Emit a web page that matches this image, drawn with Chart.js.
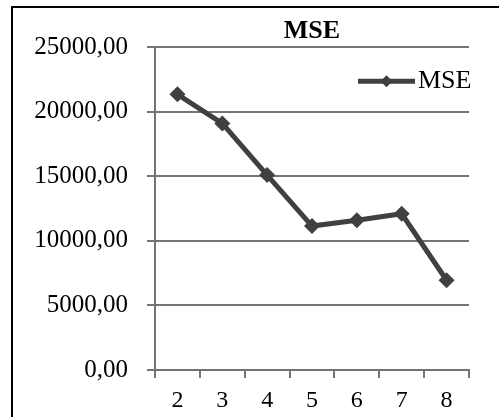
<!DOCTYPE html>
<html>
<head>
<meta charset="utf-8">
<style>
  html, body { margin: 0; padding: 0; background: #fff; }
  #wrap { width: 499px; height: 417px; position: relative; }
</style>
<script src="https://cdn.jsdelivr.net/npm/chart.js@4/dist/chart.umd.min.js"></script>
</head>
<body>
<div id="wrap"><canvas id="c" width="499" height="417"></canvas></div>
<script>
// Number of clusters on the x axis and the MSE obtained for each
const categories = ['2', '3', '4', '5', '6', '7', '8'];
const mseValues = [21350, 19100, 15100, 11150, 11600, 12100, 6950];
const seriesName = 'MSE';
const chartTitle = 'MSE';
const yMin = 0;
const yMax = 25000;
const yStep = 5000;

const SERIF = "'Liberation Serif', 'Times New Roman', serif";
const LINE_COLOR = '#404040';
const GRID_COLOR = '#747474';

// Black frame around the whole figure
const framePlugin = {
  id: 'frame',
  afterDraw(chart) {
    const ctx = chart.ctx;
    ctx.save();
    ctx.strokeStyle = '#000';
    ctx.lineWidth = 2;
    ctx.strokeRect(12, 7, 1000, 1000);
    ctx.restore();
  }
};

// Legend entry drawn inside the plot, top right
const innerLegend = {
  id: 'innerLegend',
  afterDatasetsDraw(chart) {
    const ctx = chart.ctx;
    const area = chart.chartArea;
    const ds = chart.data.datasets[0];
    const y = area.top + 34;
    const x0 = area.right - 111;
    const x1 = area.right - 54;
    ctx.save();
    ctx.strokeStyle = ds.borderColor;
    ctx.lineWidth = 5;
    ctx.beginPath();
    ctx.moveTo(x0, y);
    ctx.lineTo(x1, y);
    ctx.stroke();
    ctx.fillStyle = ds.pointBackgroundColor;
    Chart.helpers.drawPoint(ctx, { pointStyle: 'rectRot', radius: 6, borderWidth: 0 }, (x0 + x1) / 2, y);
    ctx.fillStyle = '#000';
    ctx.font = '26px ' + SERIF;
    ctx.textAlign = 'left';
    ctx.textBaseline = 'middle';
    ctx.fillText(ds.label, x1 + 3, y);
    ctx.restore();
  }
};

new Chart(document.getElementById('c'), {
  type: 'line',
  data: {
    labels: categories,
    datasets: [{
      label: seriesName,
      data: mseValues,
      borderColor: LINE_COLOR,
      backgroundColor: LINE_COLOR,
      borderWidth: 5,
      pointStyle: 'rectRot',
      pointRadius: 8,
      pointBorderWidth: 0,
      pointBackgroundColor: LINE_COLOR,
      tension: 0,
      fill: false
    }]
  },
  options: {
    responsive: false,
    animation: false,
    devicePixelRatio: 1,
    layout: { padding: { left: 0, right: 30, top: 0, bottom: 0 } },
    plugins: {
      legend: { display: false },
      tooltip: { enabled: false },
      title: {
        display: true,
        text: chartTitle,
        fullSize: false,
        color: '#000',
        font: { family: SERIF, size: 26, weight: 'bold', lineHeight: 1.2 },
        padding: { top: 16, bottom: 0 }
      }
    },
    scales: {
      x: {
        type: 'category',
        offset: true,
        grid: {
          display: true,
          offset: true,
          drawOnChartArea: false,
          drawTicks: true,
          tickLength: 8,
          tickWidth: 2,
          tickColor: GRID_COLOR,
          lineWidth: 2,
          color: GRID_COLOR
        },
        border: { display: true, color: GRID_COLOR, width: 2 },
        ticks: {
          color: '#000',
          padding: 8,
          maxRotation: 0,
          autoSkip: false,
          font: { family: SERIF, size: 24 }
        },
        afterFit(scale) { scale.height = 47; }
      },
      y: {
        min: yMin,
        max: yMax,
        grid: {
          color: GRID_COLOR,
          lineWidth: 2,
          drawTicks: true,
          tickLength: 8,
          tickColor: GRID_COLOR
        },
        border: { display: true, color: GRID_COLOR, width: 2 },
        ticks: {
          stepSize: yStep,
          color: '#000',
          padding: 19,
          font: { family: SERIF, size: 25 },
          callback: (v) => Number(v).toFixed(2).replace('.', ',')
        },
        afterFit(scale) { scale.width = 155; }
      }
    }
  },
  plugins: [framePlugin, innerLegend]
});
</script>
</body>
</html>
